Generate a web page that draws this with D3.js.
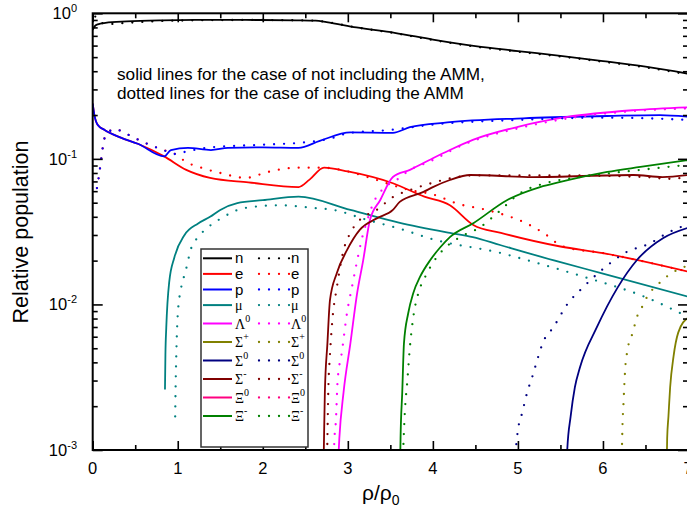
<!DOCTYPE html>
<html lang="en">
<head>
<meta charset="UTF-8">
<script src="https://cdn.jsdelivr.net/npm/d3@7"></script>
<title>Relative population</title>
<style>
	body { margin: 0; background: #fff; }
	text { font-family: "Liberation Sans", Arial, sans-serif; fill: #000; }
	.greek { font-family: "Liberation Serif", "Times New Roman", serif; }
</style>
</head>
<body>
<svg id="chart" width="687" height="521"></svg>
<script>
	// ---- data: [rho/rho0, relative population] ----
	const nSolid = [[0, 0.77], [0.02, 0.81], [0.06, 0.84], [0.15, 0.86], [0.4, 0.88], [0.8, 0.895], [1.2, 0.9], [1.8, 0.9], [2.4, 0.895], [2.62, 0.89], [2.75, 0.87], [3.1, 0.80], [3.55, 0.735], [4.0, 0.66], [4.5, 0.595], [5.0, 0.55], [5.5, 0.51], [6.0, 0.47], [6.5, 0.43], [7.0, 0.385]]
	const nDot = [[0.03, 0.95], [0.06, 0.9], [0.1, 0.86], [0.2, 0.845], [0.4, 0.86], [0.8, 0.885], [1.2, 0.895], [1.8, 0.9], [2.4, 0.895], [2.62, 0.89], [2.75, 0.87], [3.1, 0.80], [3.55, 0.73], [4.0, 0.655], [4.5, 0.59], [5.0, 0.545], [5.5, 0.505], [6.0, 0.465], [6.5, 0.425], [7.0, 0.38]]

	const eSolid = [[0, 0.24], [0.02, 0.20], [0.06, 0.171], [0.14, 0.158], [0.33, 0.14], [0.53, 0.127], [0.84, 0.104], [1.1, 0.084], [1.38, 0.074], [1.83, 0.069], [2.42, 0.064], [2.55, 0.072], [2.72, 0.087], [3.0, 0.082], [3.53, 0.068], [3.9, 0.055], [4.2, 0.048], [4.48, 0.035], [4.8, 0.031], [5.5, 0.025], [6.0, 0.0225], [7, 0.0168]]
	const eDot = [[0.05, 0.063], [0.08, 0.081], [0.1, 0.1], [0.14, 0.139], [0.2, 0.155], [0.26, 0.16], [0.4, 0.148], [0.6, 0.13], [0.83, 0.115], [0.97, 0.108], [1.1, 0.095], [1.25, 0.088], [1.5, 0.08], [1.8, 0.074], [2.05, 0.081], [2.4, 0.087], [2.7, 0.087], [3.0, 0.082], [3.23, 0.075], [3.73, 0.061], [4.0, 0.057], [4.3, 0.049], [4.6, 0.045], [5.1, 0.036], [5.3, 0.031], [5.53, 0.025], [6.0, 0.0225], [7, 0.0168]]

	const pSolid = [[0, 0.24], [0.02, 0.20], [0.06, 0.171], [0.14, 0.158], [0.33, 0.14], [0.53, 0.127], [0.84, 0.104], [0.92, 0.115], [1.12, 0.119], [1.39, 0.115], [1.59, 0.119], [2.0, 0.12], [2.42, 0.119], [2.67, 0.133], [3.03, 0.152], [3.53, 0.151], [3.73, 0.165], [4.17, 0.178], [5.06, 0.19], [6.05, 0.197], [6.67, 0.2], [7, 0.195]]
	const pDot = [[0.05, 0.063], [0.08, 0.081], [0.1, 0.1], [0.14, 0.139], [0.2, 0.155], [0.26, 0.16], [0.4, 0.148], [0.6, 0.13], [0.83, 0.115], [0.97, 0.108], [1.12, 0.113], [1.4, 0.12], [2.0, 0.125], [2.5, 0.13], [2.8, 0.138], [3.0, 0.15], [3.5, 0.158], [4.0, 0.172], [5, 0.185], [6, 0.192], [6.5, 0.19], [7, 0.185]]

	const muSolid = [[0.85, 0.0026], [0.855, 0.0045], [0.865, 0.0069], [0.9, 0.0143], [0.96, 0.021], [1.08, 0.030], [1.24, 0.036], [1.38, 0.040], [1.5, 0.0446], [1.7, 0.0497], [2.0, 0.052], [2.42, 0.055], [3.03, 0.0446], [3.6, 0.0365], [4.2, 0.031], [4.47, 0.029], [4.79, 0.0256], [5.5, 0.0195], [6.0, 0.0163], [7, 0.0113]]
	const muDot = [[0.97, 0.0017], [0.975, 0.0027], [0.985, 0.005], [1.0, 0.0085], [1.04, 0.013], [1.09, 0.0167], [1.16, 0.0245], [1.24, 0.029], [1.36, 0.034], [1.51, 0.039], [1.79, 0.046], [2.2, 0.048], [2.6, 0.046], [2.83, 0.0446], [3.23, 0.038], [3.62, 0.033], [4.0, 0.028], [4.79, 0.0226], [5.18, 0.0196], [5.77, 0.0155], [6.52, 0.0111], [7, 0.0082]]

	const lamSolid = [[2.885, 0.0008], [2.9, 0.0012], [2.95, 0.0025], [3.03, 0.0054], [3.11, 0.012], [3.18, 0.020], [3.26, 0.038], [3.38, 0.052], [3.53, 0.075], [3.73, 0.084], [4.0, 0.101], [4.2, 0.115], [4.47, 0.135], [5.0, 0.166], [5.58, 0.194], [6.36, 0.216], [7, 0.226]]
	const lamDot = [[2.835, 0.0008], [2.84, 0.0011], [2.86, 0.0016], [2.88, 0.003], [2.93, 0.0047], [2.99, 0.0087], [3.05, 0.0133], [3.11, 0.02], [3.17, 0.029], [3.23, 0.038], [3.30, 0.0497], [3.4, 0.061], [3.58, 0.072], [3.73, 0.084], [3.93, 0.094], [4.4, 0.128], [5.0, 0.162], [5.6, 0.19], [6.36, 0.213], [7, 0.222]]

	const sigPSolid = [[6.75, 0.0008], [6.755, 0.0012], [6.77, 0.0017], [6.79, 0.0027], [6.83, 0.0044], [6.885, 0.0064], [7, 0.0081]]
	const sigPDot = [[6.22, 0.0008], [6.23, 0.0015], [6.24, 0.002], [6.25, 0.0027], [6.26, 0.0035], [6.29, 0.0049], [6.35, 0.0064], [6.40, 0.0082], [6.46, 0.0096], [6.52, 0.0113], [6.58, 0.0126], [6.64, 0.0136], [6.73, 0.0152], [6.83, 0.0167], [7, 0.0185]]

	const sig0Solid = [[5.575, 0.0008], [5.58, 0.001], [5.62, 0.0017], [5.67, 0.0027], [5.73, 0.0037], [5.93, 0.007], [6.17, 0.013], [6.40, 0.0202], [6.71, 0.0286], [7, 0.0336]]
	const sig0Dot = [[4.96, 0.0008], [5.0, 0.00137], [5.05, 0.0018], [5.11, 0.0025], [5.17, 0.0032], [5.23, 0.0042], [5.29, 0.0054], [5.42, 0.007], [5.59, 0.0102], [5.76, 0.013], [5.99, 0.0173], [6.26, 0.0226], [6.56, 0.0264], [6.76, 0.031], [7, 0.0355]]

	const sigMSolid = [[2.715, 0.0008], [2.72, 0.0012], [2.73, 0.0025], [2.76, 0.0054], [2.79, 0.0107], [2.87, 0.0164], [2.99, 0.0236], [3.14, 0.0325], [3.34, 0.039], [3.53, 0.0446], [3.61, 0.0506], [3.89, 0.0593], [4.0, 0.064], [4.2, 0.0716], [4.44, 0.0775], [5.18, 0.075], [6.36, 0.0775], [6.7, 0.075], [7, 0.0775]]
	const sigMDot = [[2.755, 0.0008], [2.76, 0.0012], [2.77, 0.0025], [2.79, 0.0045], [2.82, 0.008], [2.87, 0.013], [2.95, 0.0236], [3.03, 0.031], [3.14, 0.038], [3.34, 0.0446], [3.53, 0.0546], [3.73, 0.061], [4.0, 0.0685], [4.29, 0.075], [4.5, 0.077], [5.5, 0.077], [6.5, 0.075], [6.75, 0.073], [7, 0.0745]]

	const xi0Solid = []
	const xi0Dot = []

	const xiMSolid = [[3.615, 0.0008], [3.62, 0.0012], [3.64, 0.0025], [3.66, 0.0054], [3.71, 0.0087], [3.77, 0.012], [3.85, 0.0155], [3.97, 0.0202], [4.09, 0.0248], [4.2, 0.029], [4.48, 0.0363], [4.87, 0.052], [5.26, 0.064], [5.5, 0.0694], [6.05, 0.0813], [6.44, 0.088], [7, 0.098]]
	const xiMDot = [[3.645, 0.0008], [3.67, 0.0018], [3.7, 0.003], [3.73, 0.0051], [3.77, 0.0082], [3.83, 0.012], [3.91, 0.0155], [4.0, 0.0193], [4.12, 0.0237], [4.32, 0.029], [4.56, 0.034], [4.76, 0.0425], [5.03, 0.0583], [5.34, 0.0684], [5.73, 0.075], [6.44, 0.084], [7, 0.091]]

	const names = ["n", "e", "p", "\u03bc", "\u039b|0", "\u03a3|+", "\u03a3|0", "\u03a3|-", "\u039e|0", "\u039e|-"]
	const colors = ["#000000", "#ff0000", "#0000ff", "#008080", "#ff00ff", "#808000", "#000080", "#800000", "#ff0080", "#008000"]
	const solidData = [nSolid, eSolid, pSolid, muSolid, lamSolid, sigPSolid, sig0Solid, sigMSolid, xi0Solid, xiMSolid]
	const dotData = [nDot, eDot, pDot, muDot, lamDot, sigPDot, sig0Dot, sigMDot, xi0Dot, xiMDot]

	const xTicks = [0, 1, 2, 3, 4, 5, 6, 7]
	const yDecades = [-3, -2, -1, 0]

	// ---- layout ----
	const plot = { left: 92.7, right: 688, top: 13.3, bottom: 450 }
	const svg = d3.select("#chart")

	const x = d3.scaleLinear().domain([0, 7]).range([plot.left, plot.right])
	const y = d3.scaleLog().domain([0.001, 1]).range([plot.bottom, plot.top])

	svg.append("clipPath").attr("id", "clip")
		.append("rect")
		.attr("x", plot.left).attr("y", plot.top)
		.attr("width", plot.right - plot.left).attr("height", plot.bottom - plot.top)

	const line = d3.line()
		.x(d => x(d[0]))
		.y(d => y(d[1]))
		.curve(d3.curveMonotoneX)

	const curves = svg.append("g").attr("clip-path", "url(#clip)")
	solidData.forEach((data, i) => {
		if (!data.length) return
		curves.append("path")
			.attr("d", line(data))
			.attr("fill", "none")
			.attr("stroke", colors[i])
			.attr("stroke-width", 1.8)
	})
	dotData.forEach((data, i) => {
		if (!data.length) return
		curves.append("path")
			.attr("d", line(data))
			.attr("fill", "none")
			.attr("stroke", colors[i])
			.attr("stroke-width", 2.3)
			.attr("stroke-linecap", "round")
			.attr("stroke-dasharray", "0 10")
	})

	// ---- axes (ticks inward on all four sides) ----
	const minorX = d3.range(0.5, 7, 1)
	const yMinor = y.ticks().filter(v => Math.abs(Math.log10(v) - Math.round(Math.log10(v))) > 1e-6)
	const yMajor = yDecades.map(k => Math.pow(10, k))

	function styleAxis(g) {
		g.select(".domain").remove()
		g.selectAll("line").attr("stroke", "#000").attr("stroke-width", 1.6)
		g.selectAll("text").remove()
	}

	svg.append("g").attr("transform", `translate(0,${plot.bottom})`)
		.call(d3.axisBottom(x).tickValues(xTicks).tickSize(-9)).call(styleAxis)
	svg.append("g").attr("transform", `translate(0,${plot.bottom})`)
		.call(d3.axisBottom(x).tickValues(minorX).tickSize(-5)).call(styleAxis)
	svg.append("g").attr("transform", `translate(0,${plot.top})`)
		.call(d3.axisTop(x).tickValues(xTicks).tickSize(-9)).call(styleAxis)
	svg.append("g").attr("transform", `translate(0,${plot.top})`)
		.call(d3.axisTop(x).tickValues(minorX).tickSize(-5)).call(styleAxis)

	svg.append("g").attr("transform", `translate(${plot.left},0)`)
		.call(d3.axisLeft(y).tickValues(yMajor).tickSize(-10)).call(styleAxis)
	svg.append("g").attr("transform", `translate(${plot.left},0)`)
		.call(d3.axisLeft(y).tickValues(yMinor).tickSize(-5)).call(styleAxis)
	svg.append("g").attr("transform", `translate(${plot.right},0)`)
		.call(d3.axisRight(y).tickValues(yMajor).tickSize(-10)).call(styleAxis)
	svg.append("g").attr("transform", `translate(${plot.right},0)`)
		.call(d3.axisRight(y).tickValues(yMinor).tickSize(-5)).call(styleAxis)

	// frame
	svg.append("rect")
		.attr("x", plot.left).attr("y", plot.top)
		.attr("width", plot.right - plot.left).attr("height", plot.bottom - plot.top)
		.attr("fill", "none").attr("stroke", "#000").attr("stroke-width", 2)

	// tick labels (the 7 sits on the page edge, as in the original)
	svg.append("g").selectAll("text")
		.data(xTicks).enter().append("text")
		.attr("x", d => x(d)).attr("y", plot.bottom + 24)
		.attr("text-anchor", "middle")
		.attr("font-size", 16.5)
		.text(d => d)

	const yLab = svg.append("g").selectAll("text")
		.data(yDecades).enter().append("text")
		.attr("x", 77).attr("y", d => y(Math.pow(10, d)) + 6)
		.attr("text-anchor", "end")
		.attr("font-size", 16.5)
		.text("10")
	yLab.append("tspan")
		.attr("dy", -7).attr("font-size", 11)
		.text(d => d === 0 ? "0" : "-" + Math.abs(d))

	// axis titles
	svg.append("text")
		.attr("transform", "translate(28,232) rotate(-90)")
		.attr("text-anchor", "middle")
		.attr("font-size", 21.5)
		.text("Relative population")

	const xt = svg.append("text")
		.attr("x", 362).attr("y", 500)
		.attr("font-size", 21)
	xt.append("tspan").text("\u03c1/\u03c1")
	xt.append("tspan").attr("dy", 5).attr("font-size", 14).text("0")

	// annotation
	svg.append("text").attr("x", 117).attr("y", 80).attr("font-size", 17.2)
		.text("solid lines for the case of not including the AMM,")
	svg.append("text").attr("x", 117).attr("y", 99).attr("font-size", 17.2)
		.text("dotted lines for the case of including the AMM")

	// ---- legend ----
	const legend = svg.append("g")
	legend.append("rect")
		.attr("x", 201).attr("y", 249).attr("width", 107).attr("height", 198)
		.attr("fill", "#fff").attr("stroke", "#333").attr("stroke-width", 1.5)

	const rowY = i => i < 4 ? 258.3 + i * 15.6 : 305 + (i - 3) * 18.5

	names.forEach((name, i) => {
		const yy = rowY(i)
		legend.append("line")
			.attr("x1", 203).attr("x2", 232).attr("y1", yy).attr("y2", yy)
			.attr("stroke", colors[i]).attr("stroke-width", 2)
		legend.append("line")
			.attr("x1", 259).attr("x2", 290).attr("y1", yy).attr("y2", yy)
			.attr("stroke", colors[i]).attr("stroke-width", 2.3)
			.attr("stroke-linecap", "round").attr("stroke-dasharray", "0 10")
		const parts = name.split("|")
		;[235, 291].forEach(lx => {
			const t = legend.append("text")
				.attr("x", lx).attr("y", yy + 5)
				.attr("font-size", parts.length > 1 || i === 3 ? 14 : 15)
				.attr("class", parts.length > 1 || i === 3 ? "greek" : null)
				.text(parts[0])
			if (parts.length > 1) {
				t.append("tspan").attr("dy", -7).attr("font-size", 10).text(parts[1])
			}
		})
	})
</script>
</body>
</html>
